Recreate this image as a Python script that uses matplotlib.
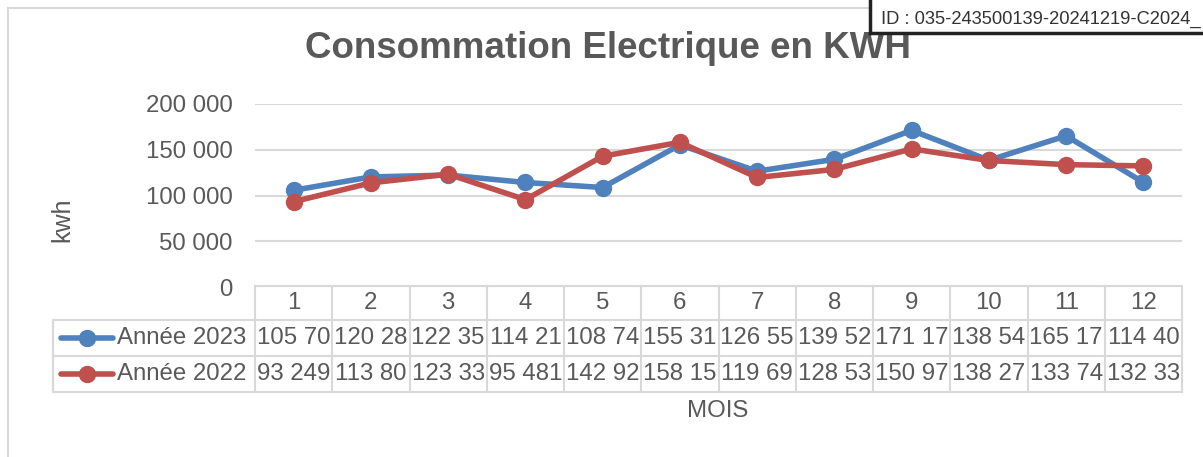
import matplotlib
matplotlib.use("Agg")
from matplotlib import pyplot as plt
from matplotlib.lines import Line2D
from matplotlib.patches import Rectangle

plt.rcParams['font.family'] = ['Liberation Sans', 'DejaVu Sans']

# Data
mois = [1, 2, 3, 4, 5, 6, 7, 8, 9, 10, 11, 12]
annee_2023 = [105700, 120280, 122350, 114210, 108740, 155310,
              126550, 139520, 171170, 138540, 165170, 114400]
annee_2022 = [93249, 113800, 123330, 95481, 142920, 158150,
              119690, 128530, 150970, 138270, 133740, 132330]
series_names = ['Année 2023', 'Année 2022']
y_ticks = [0, 50000, 100000, 150000, 200000]

blue = '#4F81BD'
red = '#C0504D'
grey_txt = '#595959'
grid_col = '#D9D9D9'
fs = 17.3

W, H = 1203, 457
fig = plt.figure(figsize=(W / 100, H / 100), dpi=100)

def fx(px):
    return px / W

def fy(py):
    return 1 - py / H

# plot area
left, right, top, bottom = 255, 1182, 104, 287
ax = fig.add_axes([fx(left), fy(bottom), fx(right - left), fy(top) - fy(bottom)])
ax.set_xlim(0.5, 12.5)
ax.set_ylim(0, 200000)
for v in y_ticks:
    ax.axhline(v, color=grid_col, lw=1.5, zorder=0)
ax.set_yticks(y_ticks)
ax.set_yticklabels([f'{v:,}'.replace(',', ' ') for v in y_ticks],
                   fontsize=fs, color=grey_txt)
ax.tick_params(axis='y', length=0, pad=16)
ax.set_xticks([])
for s in ax.spines.values():
    s.set_visible(False)

ax.plot(mois, annee_2023, color=blue, lw=4, marker='o', ms=11.5, zorder=3, clip_on=False)
ax.plot(mois, annee_2022, color=red, lw=4, marker='o', ms=11.5, zorder=4, clip_on=False)

# data table
rows_y = [286, 320, 356, 392]
leg_left = 53
tcol = '#D9D9D9'
fig.add_artist(Line2D([fx(left), fx(right)], [fy(rows_y[0])] * 2, color=tcol, lw=1.5))
for yy in rows_y[1:]:
    fig.add_artist(Line2D([fx(leg_left), fx(right)], [fy(yy)] * 2, color=tcol, lw=1.5))
fig.add_artist(Line2D([fx(leg_left)] * 2, [fy(rows_y[1]), fy(rows_y[3])], color=tcol, lw=1.5))
colw = (right - left) / 12
for i in range(13):
    xx = left + i * colw
    fig.add_artist(Line2D([fx(xx)] * 2, [fy(rows_y[0]), fy(rows_y[3])], color=tcol, lw=1.5))

def cell_text(v):
    return f'{v:,}'.replace(',', ' ')[:6]

for i, m in enumerate(mois):
    cx = left + (i + 0.5) * colw
    fig.text(fx(cx), fy((rows_y[0] + rows_y[1]) / 2), str(m), ha='center', va='center',
             fontsize=fs, color=grey_txt)
    for r, vals in enumerate([annee_2023, annee_2022]):
        fig.text(fx(cx), fy((rows_y[r + 1] + rows_y[r + 2]) / 2), cell_text(vals[i]),
                 ha='center', va='center', fontsize=fs, color=grey_txt)

for r, (name, col) in enumerate(zip(series_names, [blue, red])):
    yc = fy((rows_y[r + 1] + rows_y[r + 2]) / 2)
    fig.add_artist(Line2D([fx(61), fx(113)], [yc, yc], color=col, lw=4,
                          solid_capstyle='round'))
    fig.add_artist(Line2D([fx(87)], [yc], color=col, marker='o', ms=11.5))
    fig.text(fx(117), yc, name, ha='left', va='center', fontsize=fs, color=grey_txt)

# titles
fig.text(fx(608), fy(49), 'Consommation Electrique en KWH', ha='center', va='center',
         fontsize=26.5, fontweight='bold', color=grey_txt)
fig.text(fx(62), fy(220), 'kwh', rotation=90, ha='center', va='center',
         fontsize=18, color=grey_txt)
fig.text(fx(718), fy(411), 'MOIS', ha='center', va='center', fontsize=fs, color=grey_txt)

# outer chart border
fig.add_artist(Line2D([fx(8)] * 2, [fy(8), 0], color=grid_col, lw=1.5))
fig.add_artist(Line2D([fx(8), 1], [fy(8)] * 2, color=grid_col, lw=1.5))

# ID stamp box
fig.add_artist(Rectangle((fx(870), fy(33)), 1 - fx(870) + 0.01, fy(0) - fy(33) + 0.01,
                         facecolor='white', edgecolor='none', zorder=5))
fig.add_artist(Line2D([fx(870)] * 2, [fy(33), 1], color='#222222', lw=2.5, zorder=6))
fig.add_artist(Line2D([fx(870), 1], [fy(33)] * 2, color='#222222', lw=2.5, zorder=6))
fig.text(fx(881), fy(19), 'ID : 035-243500139-20241219-C2024_', ha='left', va='center',
         fontsize=13.2, color='#333333', zorder=7)

fig.savefig('out.png', dpi=100)
